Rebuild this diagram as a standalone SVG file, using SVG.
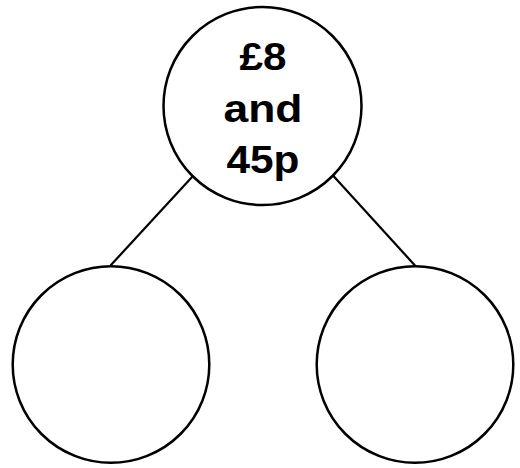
<svg xmlns="http://www.w3.org/2000/svg" width="520" height="468" viewBox="0 0 520 468">
<style>
.node{fill:#fff;stroke:#000;stroke-width:2.5}
.edge{stroke:#000;stroke-width:2.2;fill:none}
.lbl{font-family:"Liberation Sans",Arial,sans-serif;font-weight:bold;font-size:39px;fill:#000;text-anchor:middle}
</style>
<rect width="520" height="468" fill="#fff"/>
<g id="connectors">
<line class="edge" x1="192.5" y1="176.5" x2="110.5" y2="265.5"/>
<line class="edge" x1="333" y1="175.5" x2="415" y2="265.5"/>
</g>
<g id="top">
<circle class="node" cx="262.5" cy="106" r="99"/>
<text class="lbl" x="263" y="70" textLength="47" lengthAdjust="spacingAndGlyphs">£8</text>
<text class="lbl" x="263" y="121.5" textLength="79" lengthAdjust="spacingAndGlyphs">and</text>
<text class="lbl" x="263" y="173" textLength="73" lengthAdjust="spacingAndGlyphs">45p</text>
</g>
<g id="left">
<circle class="node" cx="111" cy="364.5" r="98.3"/>
</g>
<g id="right">
<circle class="node" cx="415" cy="364.5" r="98.3"/>
</g>
</svg>
